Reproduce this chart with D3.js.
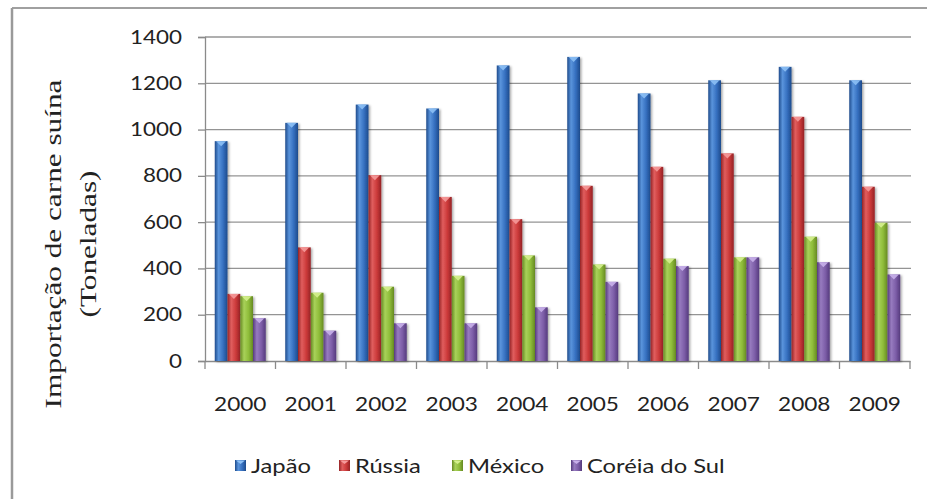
<!DOCTYPE html>
<html>
<head>
<meta charset="utf-8">
<script src="https://cdn.jsdelivr.net/npm/d3@7"></script>
<style>
  html, body { margin: 0; padding: 0; background: #fff; }
  svg { display: block; }
</style>
</head>
<body>
<script>
// Pork imports by country, 2000–2009 (tonnes)
const years = ["2000","2001","2002","2003","2004","2005","2006","2007","2008","2009"];
const seriesNames = ["Japão", "Rússia", "México", "Coréia do Sul"];
const japao  = [950, 1029, 1108, 1091, 1277, 1314, 1156, 1213, 1271, 1213];
const russia = [290, 491, 803, 709, 613, 757, 839, 897, 1055, 753];
const mexico = [280, 295, 321, 368, 456, 417, 442, 448, 537, 597];
const coreia = [185, 131, 163, 163, 232, 342, 410, 448, 427, 374];
const yTicks = [0, 200, 400, 600, 800, 1000, 1200, 1400];
const yTitle = ["Importação de carne suína", "(Toneladas)"];

const seriesValues = [japao, russia, mexico, coreia];
const palette = [
  { dark: "#1d4b8c", mid: "#3670c0", light: "#5a94dc", top: "#8cc0f5" },
  { dark: "#952325", mid: "#cc3a3a", light: "#e05e5e", top: "#f59a9a" },
  { dark: "#668a22", mid: "#8fbd3a", light: "#a8d15a", top: "#d5f08e" },
  { dark: "#553a7d", mid: "#7d5ea8", light: "#977bbf", top: "#c8b0ea" }
];

const W = 927, H = 499;
const FONT = "Lato, 'Open Sans', sans-serif";
const svg = d3.select("body").append("svg").attr("width", W).attr("height", H);
const defs = svg.append("defs");

palette.forEach((c, i) => {
  const g = defs.append("linearGradient").attr("id", "grad" + i)
    .attr("x1", "0").attr("x2", "1").attr("y1", "0").attr("y2", "0");
  g.append("stop").attr("offset", "0%").attr("stop-color", c.dark);
  g.append("stop").attr("offset", "30%").attr("stop-color", c.light);
  g.append("stop").attr("offset", "65%").attr("stop-color", c.mid);
  g.append("stop").attr("offset", "100%").attr("stop-color", c.dark);
});
const shadow = defs.append("filter").attr("id", "shadow")
  .attr("x", "-30%").attr("y", "-5%").attr("width", "160%").attr("height", "115%");
shadow.append("feDropShadow").attr("dx", 1.5).attr("dy", 1).attr("stdDeviation", 1.2)
  .attr("flood-color", "#000").attr("flood-opacity", 0.35);

// frame (top and left edges)
svg.append("line").attr("x1", 12).attr("x2", W).attr("y1", 8).attr("y2", 8)
  .attr("stroke", "#a0a0a0").attr("stroke-width", 2);
svg.append("line").attr("x1", 12).attr("x2", 12).attr("y1", 8).attr("y2", H)
  .attr("stroke", "#9a9a9a").attr("stroke-width", 2.5);

// scales
const x = d3.scaleBand().domain(years).range([205, 910]).paddingInner(0).paddingOuter(0);
const xs = d3.scaleBand().domain(seriesNames).range([0, x.bandwidth()]).paddingInner(0).paddingOuter(0.765);
const y = d3.scaleLinear().domain([0, 1400]).range([361, 37]);

// gridlines
svg.append("g").selectAll("line").data(yTicks.filter(d => d > 0)).join("line")
  .attr("x1", 205).attr("x2", 911)
  .attr("y1", d => y(d)).attr("y2", d => y(d))
  .attr("stroke", "#949494").attr("stroke-width", 1.3);

// y axis
const yAxis = svg.append("g").attr("transform", "translate(205,0)")
  .call(d3.axisLeft(y).tickValues(yTicks).tickSize(7).tickFormat(d3.format("d")));
yAxis.select(".domain").attr("stroke", "#8a8a8a").attr("stroke-width", 1.3);
yAxis.selectAll(".tick line").attr("stroke", "#8a8a8a").attr("stroke-width", 1.3);
yAxis.selectAll(".tick text")
  .attr("x", 0).attr("transform", "translate(-23,0) scale(1.18,1)")
  .attr("font-family", FONT).attr("font-size", 19).attr("fill", "#222");

// x axis: line, boundary ticks and centred year labels
const xg = svg.append("g").attr("transform", "translate(0,361)");
xg.call(d3.axisBottom(x).tickSize(0).tickPadding(0));
xg.select(".domain").attr("stroke", "#8a8a8a").attr("stroke-width", 1.3);
xg.selectAll(".tick text")
  .attr("y", 0).attr("dy", null).attr("transform", "translate(0,50) scale(1.19,1)")
  .attr("font-family", FONT).attr("font-size", 19).attr("fill", "#222");
xg.append("g").selectAll("line").data(years.map(d => x(d)).concat([x.range()[1]])).join("line")
  .attr("x1", d => d).attr("x2", d => d).attr("y1", 0).attr("y2", 8)
  .attr("stroke", "#8a8a8a").attr("stroke-width", 1.3);

// bars
const rows = [];
years.forEach((yr, i) => seriesNames.forEach((s, j) => rows.push({ yr, s, j, v: seriesValues[j][i] })));
const bw = xs.bandwidth();
const bars = svg.append("g").selectAll("g").data(rows).join("g")
  .attr("transform", d => `translate(${x(d.yr) + xs(d.s)},0)`);
bars.append("rect")
  .attr("x", 0).attr("width", bw)
  .attr("y", d => y(d.v)).attr("height", d => y(0) - y(d.v))
  .attr("fill", d => `url(#grad${d.j})`)
  .attr("filter", "url(#shadow)");
// bevelled top
bars.append("path")
  .attr("d", d => {
    const t = y(d.v);
    return `M1.5,${t} L${bw - 1.5},${t} L${bw / 2},${t + 5} Z`;
  })
  .attr("fill", d => palette[d.j].top).attr("opacity", 0.9);

// y axis title
const titleX = [61, 96];
yTitle.forEach((t, i) => {
  svg.append("text")
    .attr("transform", `translate(${titleX[i]},244) rotate(-90) scale(1.33,1)`)
    .attr("text-anchor", "middle")
    .attr("font-family", "'Liberation Serif', 'Times New Roman', serif")
    .attr("font-size", 23.5).attr("fill", "#222")
    .text(t);
});

// legend
const legendX = [235, 339, 452, 571];
const leg = svg.append("g").selectAll("g").data(seriesNames).join("g")
  .attr("transform", (d, i) => `translate(${legendX[i]},460)`);
leg.append("rect").attr("width", 11).attr("height", 11)
  .attr("fill", (d, i) => `url(#grad${i})`);
leg.append("path").attr("d", "M1,0.5 L10,0.5 L5.5,4 Z")
  .attr("fill", (d, i) => palette[i].top);
leg.append("text").attr("x", 0).attr("y", 0).attr("dy", "0.35em")
  .attr("transform", "translate(16,6) scale(1.25,1)")
  .attr("font-family", FONT).attr("font-size", 19).attr("fill", "#222")
  .text(d => d);
</script>
</body>
</html>
